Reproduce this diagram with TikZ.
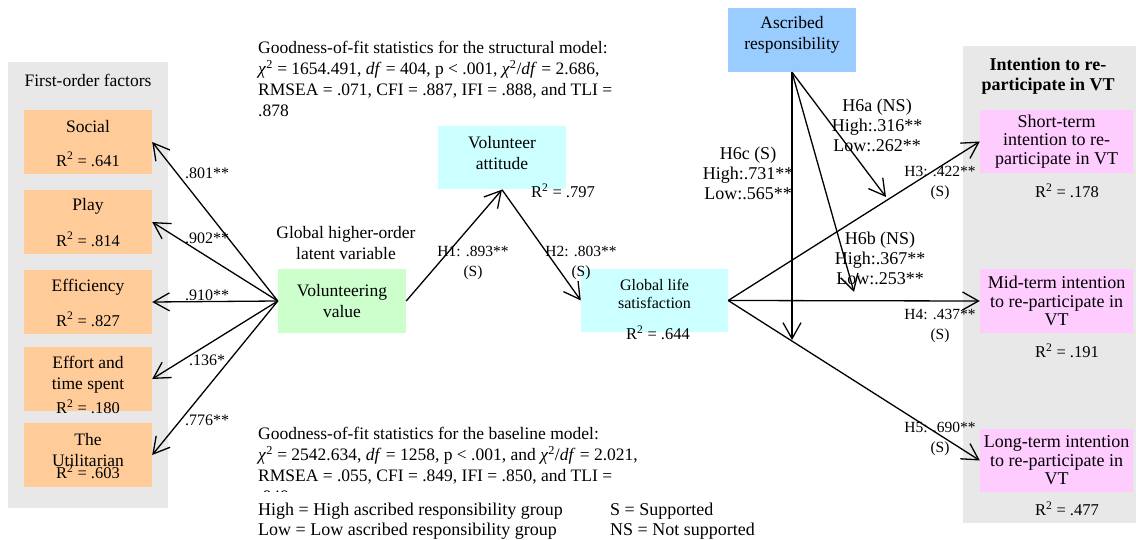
\documentclass[tikz,border=0pt]{standalone}
\usepackage{fontspec}
\setmainfont{Liberation Serif}
\usetikzlibrary{arrows.meta,calc}
\definecolor{panelgray}{HTML}{E8E8E8}
\definecolor{factororange}{HTML}{FFCC99}
\definecolor{valuegreen}{HTML}{CCFFCC}
\definecolor{mediatorcyan}{HTML}{CCFFFF}
\definecolor{moderatorblue}{HTML}{99CCFF}
\definecolor{outcomepink}{HTML}{FFCCFF}

\begin{document}
\begin{tikzpicture}[x=1pt,y=-1pt,font=\fontsize{17.5}{21}\selectfont,inner sep=0pt,
 fbox/.style={fill=factororange,minimum width=128pt,minimum height=64pt},
 vbox/.style={minimum width=128pt,minimum height=64pt,align=center},
 obox/.style={fill=outcomepink,minimum width=153pt,minimum height=63pt,align=center,font=\fontsize{18}{18.5}\selectfont},
 rsq/.style={font=\fontsize{16.5}{20}\selectfont},
 coef/.style={font=\fontsize{15.5}{20}\selectfont,align=center},
 mod/.style={font=\fontsize{18}{20}\selectfont,align=center},
 arr/.style={-{Straight Barb[length=16pt,width=18pt]},line width=1.3pt}]
 \useasboundingbox (0,0) rectangle (1136,540);
 % grey panels
 \fill[panelgray] (8,62) rectangle (168,508);
 \fill[panelgray] (963,46) rectangle (1136,523);
 \node at (88,80) {First-order factors};
 \node[align=center,font=\bfseries\fontsize{18}{20}\selectfont] at (1048,76) {Intention to re-\\participate in VT};
 % first-order factors
 \foreach \n/\y/\t/\r in {social/142/Social/.641,play/222/Play/.814,eff/302/Efficiency/.827}{
  \node[fbox] (\n) at (88,\y) {};
  \node at ($(\n.north)+(0,17)$) {\t};
  \node[rsq] at ($(\n.south)+(0,-15)$) {R\textsuperscript{2} = \r};}
 \node[fbox] (effort) at (88,379) {};
 \node[align=center] at (88,375) {Effort and\\time spent};
 \node[rsq] at (88,407) {R\textsuperscript{2} = .180};
 \node[fbox] (util) at (88,455) {};
 \node[align=center] at (88,450) {The\\Utilitarian};
 \node[rsq] at (88,472) {R\textsuperscript{2} = .603};
 % structural part
 \node[vbox,fill=valuegreen] (vv) at (342,301) {Volunteering\\value};
 \node[align=center] at (346,243) {Global higher-order\\latent variable};
 \node[vbox,fill=mediatorcyan,minimum height=63pt] (att) at (502,158) {};
 \node[align=center] at (502,153) {Volunteer\\attitude};
 \node[rsq] at (563,191) {R\textsuperscript{2} = .797};
 \node[vbox,fill=mediatorcyan,minimum width=147pt,minimum height=63pt] (gls) at (654.5,300.5) {};
 \node[align=center,font=\fontsize{16}{18}\selectfont] at (654.5,294) {Global life\\satisfaction};
 \node[rsq] at (658,333) {R\textsuperscript{2} = .644};
 \node[vbox,fill=moderatorblue] (asc) at (792,40) {};
 \node[align=center] at (792,35) {Ascribed\\responsibility};
 % outcomes
 \node[obox] (short) at (1056.5,141.5) {Short-term\\intention to re-\\participate in VT};
 \node[obox,minimum height=64pt] (mid) at (1056.5,301) {Mid-term intention\\to re-participate in\\VT};
 \node[obox] (long) at (1056.5,460.5) {Long-term intention\\to re-participate in\\VT};
 \node[rsq] at (1067,191) {R\textsuperscript{2} = .178};
 \node[rsq] at (1067,351) {R\textsuperscript{2} = .191};
 \node[rsq] at (1067,509) {R\textsuperscript{2} = .477};
 % loadings
 \foreach \n in {social,play,eff,effort,util}{\draw[arr] (vv.west) -- (\n.east);}
 \foreach \y/\t in {173/.801**,238/.902**,295/.910**,360/.136*,420/.776**}{\node[coef,font=\fontsize{16}{20}\selectfont] at (207,\y) {\t};}
 % paths
 \coordinate (h6a) at (886,197);
 \coordinate (h6b) at (854,292);
 \coordinate (h6c) at (792,340);
 \draw[arr] (vv.east) -- (att.south);
 \draw[arr] (att.south) -- (gls.west);
 \draw[arr] (gls.east) -- (short.west);
 \draw[arr] (gls.east) -- (mid.west);
 \draw[arr] (gls.east) -- (long.west);
 \draw[arr] (asc.south) -- (h6c);
 \draw[arr] (asc.south) -- (h6a);
 \draw[arr] (asc.south) -- (h6b);
 \node[coef] at (473,263) {H1: .893**\\(S)};
 \node[coef] at (581,263) {H2: .803**\\(S)};
 \node[coef] at (940,183) {H3: .422**\\(S)};
 \node[coef] at (940,326) {H4: .437**\\(S)};
 \node[coef] at (940,439) {H5: .690**\\(S)};
 \node[mod] at (877,125) {H6a (NS)\\High:.316**\\Low:.262**};
 \node[mod] at (748,173) {H6c (S)\\High:.731**\\Low:.565**};
 \node[mod] at (880,258) {H6b (NS)\\High:.367**\\Low:.253**};
 % fit statistics
 \node[anchor=north west,align=left] at (258,41) {Goodness-of-fit statistics for the structural model:\\
  \textit{χ}\textsuperscript{2} = 1654.491, \textit{df} = 404, p < .001, \textit{χ}\textsuperscript{2}/\textit{df} = 2.686,\\
  RMSEA = .071, CFI = .887, IFI = .888, and TLI =\\
  .878};
 \begin{scope}
  \clip (250,420) rectangle (720,491.5);
  \node[anchor=north west,align=left] at (258,427) {Goodness-of-fit statistics for the baseline model:\\
   \textit{χ}\textsuperscript{2} = 2542.634, \textit{df} = 1258, p < .001, and \textit{χ}\textsuperscript{2}/\textit{df} = 2.021,\\
   RMSEA = .055, CFI = .849, IFI = .850, and TLI =\\
   .848};
 \end{scope}
 % legend
 \node[anchor=west,font=\fontsize{18}{21}\selectfont] at (258,511) {High = High ascribed responsibility group};
 \node[anchor=west,font=\fontsize{18}{21}\selectfont] at (258,531) {Low = Low ascribed responsibility group};
 \node[anchor=west,font=\fontsize{18}{21}\selectfont] at (610,511) {S = Supported};
 \node[anchor=west,font=\fontsize{18}{21}\selectfont] at (610,531) {NS = Not supported};
\end{tikzpicture}
\end{document}
